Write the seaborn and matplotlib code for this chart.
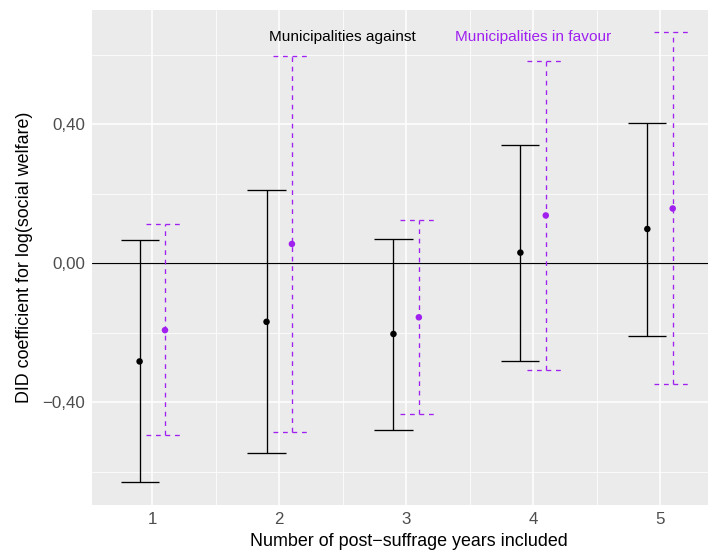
import numpy as np
import pandas as pd
import matplotlib
matplotlib.use("Agg")
import matplotlib.pyplot as plt
import seaborn as sns

# Data
years = [1, 2, 3, 4, 5]
against_coef = [-0.282, -0.168, -0.203, 0.031, 0.099]
against_lo = [-0.630, -0.546, -0.479, -0.282, -0.208]
against_hi = [0.067, 0.210, 0.071, 0.341, 0.405]
favour_coef = [-0.192, 0.056, -0.155, 0.138, 0.158]
favour_lo = [-0.495, -0.486, -0.432, -0.308, -0.347]
favour_hi = [0.112, 0.597, 0.125, 0.583, 0.665]
groups = ["Municipalities against", "Municipalities in favour"]
yticks = [-0.4, 0.0, 0.4]
ytick_labels = ["\u22120,40", "0,00", "0,40"]

PURPLE = "#A020F0"
colors = {groups[0]: "black", groups[1]: PURPLE}
offsets = {groups[0]: -0.1, groups[1]: 0.1}
styles = {groups[0]: "-", groups[1]: (0, (3.6, 3.6))}

rows = []
for i, y in enumerate(years):
    rows.append(dict(group=groups[0], year=y, coef=against_coef[i], lo=against_lo[i], hi=against_hi[i]))
    rows.append(dict(group=groups[1], year=y, coef=favour_coef[i], lo=favour_lo[i], hi=favour_hi[i]))
df = pd.DataFrame(rows)
df["x"] = df["year"] + df["group"].map(offsets)

sns.set_theme(style="darkgrid")
plt.rcParams["font.family"] = ["Liberation Sans", "DejaVu Sans"]

fig = plt.figure(figsize=(7.08, 5.54), dpi=100)
ax = fig.add_axes([92 / 708, 1 - 505 / 554, 1 - 92 / 708, (505 - 10) / 554])
ax.set_facecolor("#EBEBEB")

# grid
ax.set_xticks(years)
ax.set_xticks([1.5, 2.5, 3.5, 4.5], minor=True)
ax.set_yticks(yticks)
ax.set_yticks([-0.6, -0.2, 0.2, 0.6], minor=True)
ax.grid(which="major", color="white", linewidth=1.1)
ax.grid(which="minor", color="white", linewidth=0.55)
ax.set_axisbelow(True)

ax.axhline(0, color="black", linewidth=0.85, zorder=2)

for g in groups:
    sub = df[df["group"] == g]
    ax.vlines(sub["x"], sub["lo"], sub["hi"], color=colors[g], linestyles=[styles[g]], linewidth=0.95, zorder=3)
    ax.hlines(sub["lo"], sub["x"] - 0.15, sub["x"] + 0.15, color=colors[g], linestyles=[styles[g]], linewidth=0.95, zorder=3)
    ax.hlines(sub["hi"], sub["x"] - 0.15, sub["x"] + 0.15, color=colors[g], linestyles=[styles[g]], linewidth=0.95, zorder=3)

sns.scatterplot(data=df, x="x", y="coef", hue="group", palette=colors, s=22,
                edgecolor="none", legend=False, ax=ax, zorder=4)

ax.text(2.5, 0.65, groups[0], color="black", ha="center", va="center", fontsize=11.1)
ax.text(4.0, 0.65, groups[1], color=PURPLE, ha="center", va="center", fontsize=11.1)

ax.set_xlim(0.525, 5.378)
ax.set_ylim(-0.695, 0.729)
ax.set_yticklabels(ytick_labels)
ax.set_xticklabels([str(y) for y in years])
ax.tick_params(axis="both", which="major", length=3, width=0.8, color="#333333",
               labelsize=12.2, labelcolor="#4D4D4D", pad=2)
ax.tick_params(which="minor", length=0)
for s in ax.spines.values():
    s.set_visible(False)

ax.set_xlabel("Number of post\u2212suffrage years included", fontsize=12.9, color="black",
              labelpad=4, x=0.515, ha="center")
ax.set_ylabel("DID coefficient for log(social welfare)", fontsize=12.9, color="black", labelpad=7)

fig.savefig("out.png", dpi=100, facecolor="white")
